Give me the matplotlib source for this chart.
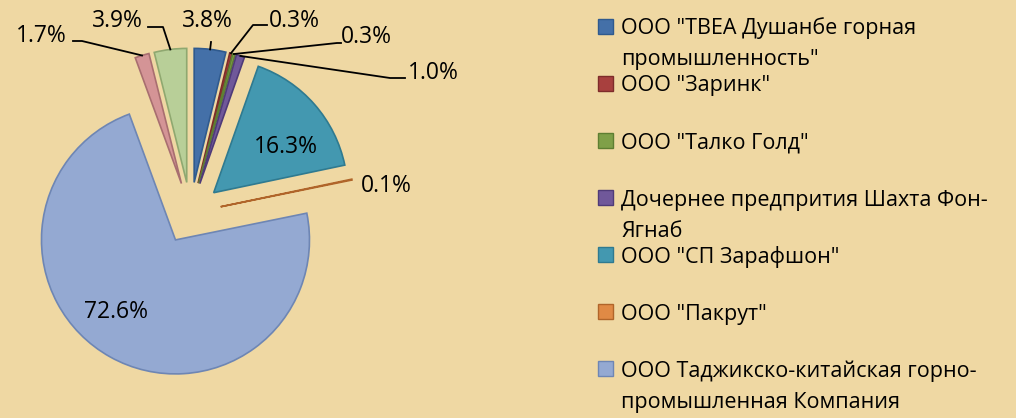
import numpy as np
import matplotlib
matplotlib.use("Agg")
import matplotlib.pyplot as plt
from matplotlib.patches import Rectangle

plt.rcParams['font.family'] = ['Open Sans', 'DejaVu Sans']

# data (clockwise from 12 o'clock)
values = [3.8, 0.3, 0.3, 1.0, 16.3, 0.1, 72.6, 1.7, 3.9]
colors = ['#4470A8', '#A8403E', '#7FA048', '#70589A', '#4398B0',
          '#E08A45', '#94A9D2', '#D49496', '#B8CF98']
edges = ['#2F5A8E', '#7E2C2A', '#5E7E32', '#4F3B78', '#2F7A90',
         '#B0652A', '#6E86B4', '#A86E70', '#8FA870']
legend_labels = ['ООО "ТВЕА Душанбе горная\nпромышленность"',
                 'ООО "Заринк"',
                 'ООО "Талко Голд"',
                 'Дочернее предпрития Шахта Фон-\nЯгнаб',
                 'ООО "СП Зарафшон"',
                 'ООО "Пакрут"',
                 'ООО Таджикско-китайская горно-\nпромышленная Компания']

# layout in pixels
W, H = 1016, 418
CX, CY, R = 190.5, 213.0, 134.0

def px(x, y):
    return (x - CX) / R, (CY - y) / R

# label positions (center x, baseline y) and leader knee points, in pixels
label_pos = [(207, 27), (294, 27), (366, 43), (433, 79), (286, 153),
             (386, 192), (116, 318), (41, 42), (117, 27)]
leaders = {0: [(211, 42)],
           1: [(253, 25), (267, 25)],
           2: [(337, 43), (341, 43)],
           3: [(390, 78), (405, 78)],
           7: [(82, 41), (73, 41)],
           8: [(163, 27), (148, 27)]}

fig = plt.figure(figsize=(W / 100, H / 100), dpi=100)
fig.patch.set_facecolor('#EFD8A3')
ax = fig.add_axes([0, 0, 1, 1])
ax.set_facecolor('#EFD8A3')

wedges, _ = ax.pie(values, colors=colors, startangle=90, counterclock=False,
                   explode=[0.23] * len(values),
                   wedgeprops=dict(linewidth=1.2))
for w, ec in zip(wedges, edges):
    w.set_edgecolor(ec)

x0, y0 = px(0, 0)
x1, y1 = px(W, H)
ax.set_xlim(x0, x1)
ax.set_ylim(y1, y0)
ax.set_aspect('equal')
ax.axis('off')

for i, (v, w) in enumerate(zip(values, wedges)):
    lx, ly = px(*label_pos[i])
    ax.text(lx, ly, f"{v:.1f}%", ha='center', va='baseline', fontsize=16.5,
            color='black')
    if i in leaders:
        mid = np.deg2rad((w.theta1 + w.theta2) / 2)
        sx = w.center[0] + w.r * np.cos(mid)
        sy = w.center[1] + w.r * np.sin(mid)
        pts = [(sx, sy)] + [px(*p) for p in leaders[i]]
        ax.plot([p[0] for p in pts], [p[1] for p in pts], color='black', lw=1.3)

# legend, drawn in pixel coordinates
for i, lab in enumerate(legend_labels):
    base = 34.3 + i * 57.1
    sq_x, sq_y = px(598, base - 0.5)
    ax.add_patch(Rectangle((sq_x, sq_y), 15 / R, 15 / R, facecolor=colors[i],
                           edgecolor=edges[i], lw=1.0))
    for k, line in enumerate(lab.split('\n')):
        tx, ty = px(621, base + k * 31)
        ax.text(tx, ty, line, ha='left', va='baseline', fontsize=15.5,
                color='black')

fig.savefig('out.png', dpi=100, facecolor=fig.get_facecolor())
